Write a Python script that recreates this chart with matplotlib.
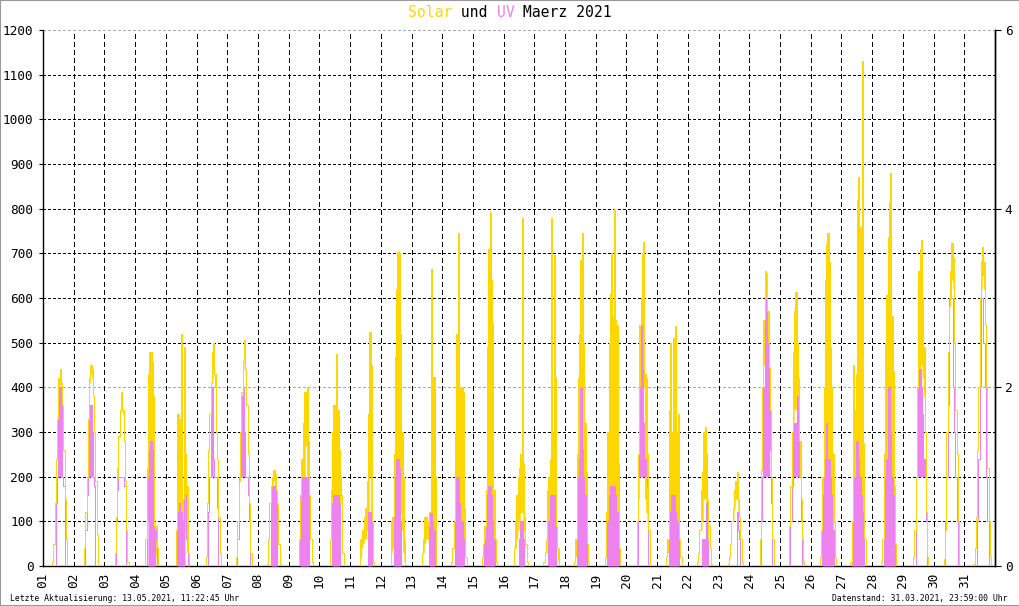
import numpy as np
import matplotlib
matplotlib.use("Agg")
import matplotlib.pyplot as plt
from matplotlib.patches import Rectangle

FONT = "DejaVu Sans Mono"
plt.rcParams["font.family"] = [FONT, "DejaVu Sans"]

GOLD = "#FFD700"
VIOLET = "#EE82EE"

DAY_LABELS = [f"{d:02d}" for d in range(1, 32)]
HOURS = list(range(7, 21))  # hourly samples 07:00 .. 20:00

# Solar radiation W/m2 : upper envelope per hour
solar_hi = [
    [10, 50, 140, 240, 330, 420, 440, 410, 360, 260, 150, 60, 0, 0],
    [0, 40, 120, 200, 330, 420, 450, 440, 380, 300, 190, 70, 0, 0],
    [0, 30, 110, 220, 290, 350, 390, 350, 280, 190, 80, 10, 0, 0],
    [0, 60, 220, 430, 480, 480, 460, 380, 90, 90, 40, 0, 0, 0],
    [0, 80, 340, 330, 160, 520, 150, 490, 250, 180, 30, 0, 0, 0],
    [20, 140, 260, 340, 410, 480, 500, 430, 300, 240, 110, 30, 0, 0],
    [20, 100, 190, 300, 390, 460, 505, 440, 360, 250, 140, 30, 0, 0],
    [5, 60, 140, 180, 200, 215, 205, 170, 140, 50, 5, 0, 0, 0],
    [0, 60, 150, 240, 320, 390, 390, 400, 280, 160, 60, 10, 0, 0],
    [0, 60, 170, 300, 360, 330, 475, 350, 260, 200, 160, 30, 0, 0],
    [0, 60, 80, 80, 110, 130, 190, 340, 525, 450, 100, 10, 0, 0],
    [0, 100, 110, 250, 470, 620, 704, 700, 520, 300, 200, 60, 0, 0],
    [0, 30, 60, 110, 110, 100, 90, 120, 666, 120, 424, 200, 0, 0],
    [10, 40, 100, 300, 520, 745, 400, 340, 400, 390, 130, 20, 0, 0],
    [20, 50, 90, 170, 490, 710, 793, 640, 545, 170, 60, 10, 0, 0],
    [0, 40, 100, 160, 200, 220, 250, 778, 230, 110, 50, 10, 0, 0],
    [10, 30, 60, 170, 200, 240, 778, 300, 696, 424, 90, 40, 0, 0],
    [10, 60, 250, 420, 520, 685, 745, 500, 320, 210, 50, 10, 0, 0],
    [20, 120, 300, 500, 610, 700, 560, 800, 550, 540, 230, 40, 0, 0],
    [0, 100, 250, 540, 600, 700, 726, 430, 420, 250, 80, 0, 0, 0],
    [20, 60, 350, 500, 300, 510, 420, 537, 300, 340, 60, 20, 0, 0],
    [10, 30, 80, 170, 210, 300, 312, 250, 150, 90, 40, 5, 0, 0],
    [5, 20, 50, 100, 130, 170, 190, 210, 150, 110, 60, 10, 0, 0],
    [0, 60, 215, 400, 550, 660, 655, 570, 446, 349, 200, 60, 0, 0],
    [90, 180, 300, 480, 570, 614, 500, 420, 280, 150, 60, 10, 0, 0],
    [20, 80, 200, 400, 640, 720, 745, 680, 490, 400, 250, 100, 20, 0],
    [10, 100, 450, 350, 430, 820, 872, 760, 500, 1131, 275, 60, 0, 0],
    [10, 60, 250, 500, 606, 737, 815, 880, 560, 437, 180, 50, 0, 0],
    [0, 20, 80, 200, 400, 660, 710, 730, 600, 490, 300, 120, 20, 0],
    [0, 15, 80, 300, 480, 583, 660, 724, 690, 500, 350, 250, 100, 0],
    [5, 40, 110, 260, 400, 600, 683, 714, 680, 540, 400, 220, 100, 20],
]
# Solar radiation W/m2 : lower envelope per hour (fluctuation band)
solar_lo = [
    [10, 50, 140, 240, 330, 400, 405, 400, 360, 260, 150, 60, 0, 0],
    [0, 40, 120, 200, 330, 410, 430, 420, 380, 300, 190, 70, 0, 0],
    [0, 30, 110, 200, 290, 340, 370, 340, 280, 190, 80, 10, 0, 0],
    [0, 60, 150, 200, 180, 220, 200, 140, 40, 20, 10, 0, 0, 0],
    [0, 30, 60, 60, 60, 100, 70, 80, 100, 30, 0, 0, 0, 0],
    [20, 140, 260, 340, 410, 420, 440, 400, 300, 240, 110, 30, 0, 0],
    [20, 100, 190, 300, 390, 440, 470, 420, 360, 250, 140, 30, 0, 0],
    [5, 60, 140, 150, 180, 190, 180, 150, 140, 50, 5, 0, 0, 0],
    [0, 60, 150, 150, 170, 170, 270, 170, 150, 160, 60, 10, 0, 0],
    [0, 60, 80, 150, 160, 150, 150, 150, 140, 140, 160, 30, 0, 0],
    [0, 20, 40, 50, 60, 60, 80, 100, 200, 100, 20, 10, 0, 0],
    [0, 30, 40, 70, 100, 100, 150, 150, 120, 80, 30, 10, 0, 0],
    [0, 30, 30, 50, 60, 60, 50, 60, 80, 60, 80, 20, 0, 0],
    [10, 40, 50, 80, 100, 100, 120, 80, 60, 60, 30, 20, 0, 0],
    [20, 50, 30, 80, 100, 120, 100, 80, 80, 60, 20, 10, 0, 0],
    [0, 40, 40, 60, 80, 100, 120, 120, 80, 40, 50, 10, 0, 0],
    [10, 30, 30, 60, 100, 100, 150, 150, 150, 100, 40, 10, 0, 0],
    [10, 20, 40, 60, 100, 150, 150, 150, 120, 80, 20, 10, 0, 0],
    [20, 30, 60, 100, 100, 100, 100, 100, 100, 80, 40, 40, 0, 0],
    [0, 100, 150, 200, 350, 420, 400, 150, 120, 100, 80, 0, 0, 0],
    [20, 30, 80, 100, 100, 100, 100, 100, 100, 60, 20, 20, 0, 0],
    [10, 30, 80, 80, 100, 150, 150, 100, 60, 90, 40, 5, 0, 0],
    [5, 20, 50, 100, 100, 130, 150, 150, 110, 110, 60, 10, 0, 0],
    [0, 60, 215, 300, 450, 550, 550, 450, 350, 300, 200, 60, 0, 0],
    [90, 180, 300, 300, 350, 350, 320, 300, 200, 150, 60, 10, 0, 0],
    [20, 80, 100, 150, 150, 200, 200, 150, 150, 100, 60, 100, 20, 0],
    [10, 20, 60, 80, 100, 150, 200, 150, 100, 80, 30, 60, 0, 0],
    [10, 60, 100, 150, 200, 200, 200, 200, 200, 100, 50, 50, 0, 0],
    [0, 20, 80, 200, 400, 400, 420, 450, 420, 380, 300, 120, 20, 0],
    [0, 15, 80, 300, 480, 583, 600, 640, 620, 500, 350, 250, 100, 0],
    [5, 40, 110, 260, 400, 600, 620, 650, 620, 540, 400, 220, 100, 20],
]
# UV index : upper value per hour
uv_hi = [
    [0, 0, 0, 0.7, 1, 2, 2, 2, 1, 0.9, 0, 0, 0, 0],
    [0, 0, 0.4, 0.8, 1, 1.8, 1.8, 1.5, 1, 0.9, 0, 0, 0, 0],
    [0, 0, 0.5, 0.85, 1, 1, 1, 1, 0.9, 0.9, 0, 0, 0, 0],
    [0, 0, 0.5, 1, 1.3, 1.4, 1.3, 0.8, 0.4, 0.3, 0, 0, 0, 0],
    [0, 0, 0.6, 0.7, 0.6, 0.6, 0.5, 0.8, 0.8, 0.3, 0, 0, 0, 0],
    [0, 0, 0.6, 1, 2, 2, 1.2, 1, 1, 0.65, 0, 0, 0, 0],
    [0, 0.3, 1, 1, 1.9, 2, 1.5, 1, 1, 0.8, 0.5, 0, 0, 0],
    [0, 0, 0, 0.8, 0.9, 0.9, 0.9, 0.8, 0, 0, 0, 0, 0, 0],
    [0, 0, 0.8, 1, 1, 1, 1, 1, 0.8, 0, 0, 0, 0, 0],
    [0, 0, 0, 0.7, 0.8, 0.8, 0.8, 0.8, 0.7, 0, 0, 0, 0, 0],
    [0, 0, 0, 0, 0, 0, 0, 0.6, 0.6, 0.6, 0, 0, 0, 0],
    [0, 0, 0, 0.8, 1, 1.2, 1.2, 1.1, 0.5, 0, 0, 0, 0, 0],
    [0, 0, 0, 0, 0, 0, 0, 0.6, 0.6, 0.5, 0.4, 0, 0, 0],
    [0, 0, 0, 0.5, 1, 1, 0.7, 0.5, 0.5, 0.3, 0, 0, 0, 0],
    [0, 0, 0.3, 0.7, 0.8, 0.9, 0.9, 0.8, 0.5, 0.3, 0, 0, 0, 0],
    [0, 0, 0, 0, 0, 0.3, 0.5, 0.5, 0.3, 0, 0, 0, 0, 0],
    [0, 0, 0, 0, 0.5, 0.8, 0.8, 0.8, 0.8, 0.6, 0, 0, 0, 0],
    [0, 0, 0.5, 1, 1.2, 2, 1.3, 1, 0.8, 0.5, 0, 0, 0, 0],
    [0, 0, 0.5, 0.8, 0.9, 0.9, 0.9, 0.9, 0.8, 0.6, 0.3, 0, 0, 0],
    [0, 0, 1, 2, 2.7, 2.2, 1.6, 1.2, 1, 0.9, 0, 0, 0, 0],
    [0, 0, 0.5, 0.6, 0.8, 0.8, 0.8, 0.6, 0.5, 0.4, 0, 0, 0, 0],
    [0, 0, 0, 0, 0.3, 0.3, 0.3, 0.7, 0.3, 0, 0, 0, 0, 0],
    [0, 0, 0, 0, 0, 0, 0, 0.6, 0.4, 0.3, 0, 0, 0, 0],
    [0, 0, 0.5, 1, 2, 3, 3, 2.5, 2, 1.3, 0.7, 0, 0, 0],
    [0, 0.5, 0.9, 1.6, 1.6, 1.6, 1.9, 1.5, 1, 0.5, 0, 0, 0, 0],
    [0, 0, 0.8, 1.2, 1.2, 1.6, 1.2, 1.2, 1, 0.8, 0.4, 0, 0, 0],
    [0, 0.3, 0.5, 1, 1.4, 1.4, 1.2, 1, 0.8, 0.6, 0.3, 0, 0, 0],
    [0, 0, 0.5, 1, 1.2, 2, 2, 1.5, 1, 0.8, 0.3, 0, 0, 0],
    [0, 0, 0, 1, 1, 2.2, 2.2, 2, 1.7, 1.2, 1, 0.5, 0, 0],
    [0, 0, 0.5, 1, 1.8, 3, 3, 3, 2, 1.5, 1, 0.5, 0, 0],
    [0, 0, 0, 0.5, 1.2, 2, 3, 3, 2.5, 2, 1, 0.5, 0, 0],
]
# UV index : lower value per hour (fluctuation band)
uv_lo = [
    [0, 0, 0, 0.7, 1, 1, 1, 1, 1, 0.9, 0, 0, 0, 0],
    [0, 0, 0.4, 0.8, 1, 1, 1, 1, 1, 0.9, 0, 0, 0, 0],
    [0, 0, 0.5, 0.85, 1, 1, 1, 1, 0.9, 0.9, 0, 0, 0, 0],
    [0, 0, 0.5, 0, 0, 0, 0, 0, 0, 0.3, 0, 0, 0, 0],
    [0, 0, 0, 0, 0, 0, 0, 0, 0.8, 0.3, 0, 0, 0, 0],
    [0, 0, 0.6, 1, 1, 1, 1.2, 1, 1, 0.65, 0, 0, 0, 0],
    [0, 0.3, 1, 1, 1, 1, 1, 1, 1, 0.8, 0.5, 0, 0, 0],
    [0, 0, 0, 0, 0, 0, 0, 0, 0, 0, 0, 0, 0, 0],
    [0, 0, 0, 0, 0, 0, 0, 0, 0, 0, 0, 0, 0, 0],
    [0, 0, 0, 0, 0, 0, 0, 0, 0, 0, 0, 0, 0, 0],
    [0, 0, 0, 0, 0, 0, 0, 0, 0, 0, 0, 0, 0, 0],
    [0, 0, 0, 0, 0, 0, 0, 0, 0, 0, 0, 0, 0, 0],
    [0, 0, 0, 0, 0, 0, 0, 0, 0, 0, 0, 0, 0, 0],
    [0, 0, 0, 0, 0, 0, 0, 0, 0, 0, 0, 0, 0, 0],
    [0, 0, 0, 0, 0, 0, 0, 0, 0, 0, 0, 0, 0, 0],
    [0, 0, 0, 0, 0, 0, 0, 0, 0, 0, 0, 0, 0, 0],
    [0, 0, 0, 0, 0, 0, 0, 0, 0, 0, 0, 0, 0, 0],
    [0, 0, 0, 0, 0, 0, 0, 0, 0, 0, 0, 0, 0, 0],
    [0, 0, 0, 0, 0, 0, 0, 0, 0, 0, 0, 0, 0, 0],
    [0, 0, 1, 1, 1, 1, 1, 1, 1, 0.9, 0, 0, 0, 0],
    [0, 0, 0, 0, 0, 0, 0, 0, 0, 0, 0, 0, 0, 0],
    [0, 0, 0, 0, 0, 0, 0, 0, 0, 0, 0, 0, 0, 0],
    [0, 0, 0, 0, 0, 0, 0, 0.6, 0.4, 0.3, 0, 0, 0, 0],
    [0, 0, 0.5, 1, 1, 1, 1, 1, 1, 1.3, 0.7, 0, 0, 0],
    [0, 0.5, 0.9, 1, 1, 1, 1, 1, 1, 0.5, 0, 0, 0, 0],
    [0, 0, 0, 0, 0, 0, 0, 0, 0, 0, 0, 0, 0, 0],
    [0, 0, 0, 0, 0, 0, 0, 0, 0, 0, 0, 0, 0, 0],
    [0, 0, 0, 0, 0, 0, 0, 0, 0, 0, 0, 0, 0, 0],
    [0, 0, 0, 1, 1, 1, 1, 1, 1, 1, 1, 0.5, 0, 0],
    [0, 0, 0.5, 1, 1.8, 3, 3, 3, 2, 1.5, 1, 0.5, 0, 0],
    [0, 0, 0, 0.5, 1.2, 2, 3, 3, 2.5, 2, 1, 0.5, 0, 0],
]

LEFT_TICKS = list(range(0, 1201, 100))
RIGHT_TICKS = [0, 2, 4, 6]
UV_SCALE = 200.0  # 1200 W/m2 <-> UV 6


def series(day_lists):
    t, v = [], []
    for d, vals in enumerate(day_lists):
        t.append(d)
        v.append(0)
        for h, val in zip(HOURS, vals):
            t.append(d + h / 24.0)
            v.append(val)
        t.append(d + 21 / 24.0)
        v.append(0)
    t.append(len(day_lists))
    v.append(0)
    return np.array(t), np.array(v, dtype=float)


t, s_hi = series(solar_hi)
_, s_lo = series(solar_lo)
_, u_hi = series(uv_hi)
_, u_lo = series(uv_lo)

W, H = 1020, 606
PX = 0.72  # one pixel in points
fig = plt.figure(figsize=(W / 100, H / 100), dpi=100, facecolor="white")
ax = fig.add_axes([43 / W, 40 / H, (995 - 43) / W, (566 - 30) / H])
ax.set_facecolor("white")
ax.set_xlim(0, 31)
ax.set_ylim(0, 1200)

# grid
for yv in LEFT_TICKS[1:]:
    col = "#aaaaaa" if yv in (400, 1200) else "black"
    ax.axhline(yv, color=col, lw=PX, ls=(0, (2.8, 2.8)), zorder=1, antialiased=False)
for d in range(1, 31):
    ax.axvline(d, color="black", lw=PX, ls=(0, (5, 3.5)), zorder=1, antialiased=False)

# solar
ax.fill_between(t, s_lo, s_hi, step="post", color=GOLD, lw=0, zorder=3, antialiased=False)
# UV
ax.fill_between(t, u_lo * UV_SCALE, u_hi * UV_SCALE, step="post", color=VIOLET, lw=0,
                zorder=4, antialiased=False)
ax.step(t, u_hi * UV_SCALE, where="post", color=VIOLET, lw=PX, zorder=4.1, antialiased=False)
ax.step(t, s_hi, where="post", color=GOLD, lw=PX, zorder=4.2, antialiased=False)

ax.spines["top"].set_visible(False)
for s in ("left", "bottom", "right"):
    ax.spines[s].set_color("black")
    ax.spines[s].set_linewidth(1.0)

ax.set_yticks(LEFT_TICKS)
ax.set_yticklabels([str(v) for v in LEFT_TICKS])
ax.tick_params(axis="y", direction="out", length=3, width=0.8, pad=4,
               labelsize=9.2, colors="black")
ax.set_xticks(range(0, 31))
ax.set_xticklabels(DAY_LABELS, rotation=90)
ax.tick_params(axis="x", length=0, pad=5, labelsize=9.2)
for lab in ax.get_xticklabels() + ax.get_yticklabels():
    lab.set_fontfamily(FONT)

sec = ax.secondary_yaxis("right", functions=(lambda v: v / UV_SCALE, lambda v: v * UV_SCALE))
sec.set_yticks(RIGHT_TICKS)
sec.set_yticklabels([str(v) for v in RIGHT_TICKS])
sec.tick_params(direction="out", length=4, width=0.8, pad=3, labelsize=9.2)
sec.spines["right"].set_linewidth(1.0)
for lab in sec.get_yticklabels():
    lab.set_fontfamily(FONT)

# title in pieces with colours (monospace advance)
title_parts = [("Solar", GOLD), (" und ", "black"), ("UV", VIOLET), (" Maerz 2021", "black")]
tsize = 10.6
adv = 0.602 * tsize * 100 / 72.0  # px per char
total = sum(len(p) for p, _ in title_parts)
x0 = W / 2 - total * adv / 2
pos = 0
for txt, col in title_parts:
    fig.text((x0 + pos * adv) / W, 1 - 12.5 / H, txt, color=col, fontsize=tsize,
             family=FONT, ha="left", va="center")
    pos += len(txt)

fig.text(10 / W, 1 - 598.5 / H, "Letzte Aktualisierung: 13.05.2021, 11:22:45 Uhr",
         fontsize=5.9, family=FONT, ha="left", va="center")
fig.text(1008 / W, 1 - 598.5 / H, "Datenstand: 31.03.2021, 23:59:00 Uhr",
         fontsize=5.9, family=FONT, ha="right", va="center")

fig.patches.append(Rectangle((0, 0), 1, 1, transform=fig.transFigure, fill=False,
                             edgecolor="#999999", lw=1.5))

fig.savefig("out.png", dpi=100, facecolor="white")
